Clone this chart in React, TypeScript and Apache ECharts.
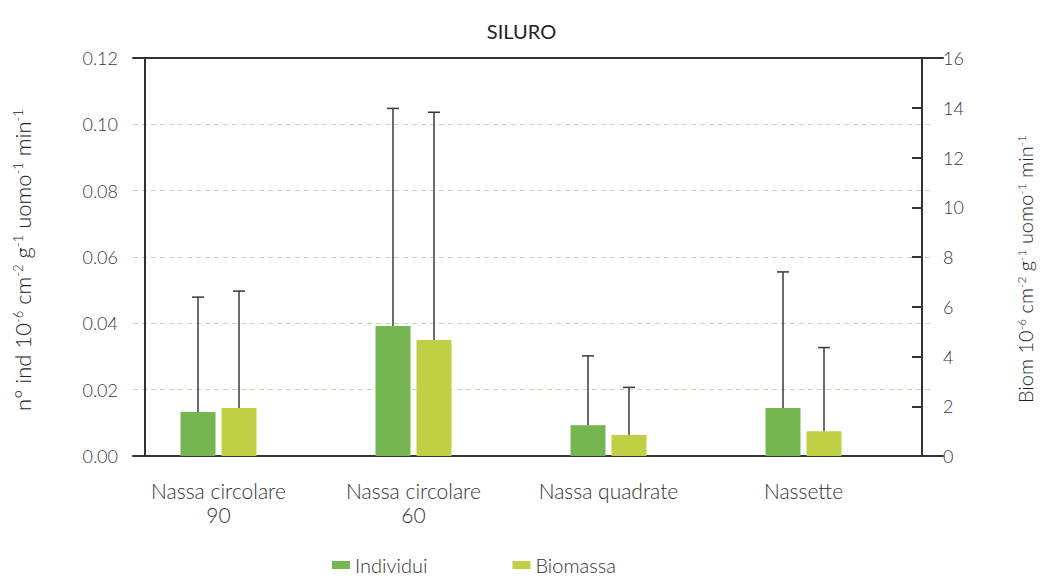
import React, { useEffect, useRef } from "react";
import * as echarts from "echarts";

const categories = ["Nassa circolare\n90", "Nassa circolare\n60", "Nassa quadrate", "Nassette"];
const individui = [0.0133, 0.0392, 0.0093, 0.0145];
const individuiErr = [0.0479, 0.1048, 0.0302, 0.0555];
const biomassa = [1.93, 4.66, 0.84, 1.0];
const biomassaErr = [6.63, 13.82, 2.76, 4.36];
const leftTicks = { min: 0, max: 0.12, interval: 0.02 };
const rightTicks = { min: 0, max: 16, interval: 2 };

const FONT = "Lato";
const BAR_W = 35;
const BAR_GAP = 6;

function errSeries(values: number[], tops: number[], yAxisIndex: number, dir: number) {
  return {
    type: "custom",
    xAxisIndex: 0,
    yAxisIndex,
    z: 5,
    silent: true,
    data: values.map((v, i) => [i, v, tops[i]]),
    renderItem: (params: any, api: any) => {
      const x = api.value(0);
      const p0 = api.coord([x, api.value(1)]);
      const p1 = api.coord([x, api.value(2)]);
      const cx = p0[0] + dir * (BAR_W + BAR_GAP) / 2;
      const style = { stroke: "#3a3a3a", lineWidth: 1.5 };
      return {
        type: "group",
        children: [
          { type: "line", shape: { x1: cx, y1: p0[1], x2: cx, y2: p1[1] }, style },
          { type: "line", shape: { x1: cx - 6, y1: p1[1], x2: cx + 6, y2: p1[1] }, style },
        ],
      };
    },
  };
}

export default function App() {
  const ref = useRef<HTMLDivElement>(null);
  useEffect(() => {
    if (!ref.current) return;
    const chart = echarts.init(ref.current, undefined, { renderer: "svg" });
    const mkName = (size: number, supSize: number, padding: number[]) => ({
      fontSize: size,
      fontFamily: FONT,
      fontWeight: 300,
      color: "#222",
      padding,
      rich: {
        s: { fontSize: supSize, verticalAlign: "top", fontFamily: FONT, color: "#222", fontWeight: 300 },
      },
    });
    chart.setOption({
      animation: false,
      textStyle: { fontFamily: FONT },
      title: {
        text: "SILURO",
        left: "center",
        top: 16,
        textStyle: { fontSize: 20, fontWeight: "normal", color: "#222", fontFamily: FONT },
      },
      legend: {
        data: ["Individui", "Biomassa"],
        left: 332,
        top: 554,
        padding: 0,
        itemWidth: 18,
        itemHeight: 8,
        itemGap: 85,
        icon: "rect",
        textStyle: { fontSize: 20, lineHeight: 22, color: "#333", fontFamily: FONT, fontWeight: 300 },
      },
      grid: [
        { left: 121, right: 132, top: 58, bottom: 123 },
        { left: 133, right: 100, top: 58, bottom: 123 },
        { left: 133, right: 111, top: 58, bottom: 123 },
      ],
      xAxis: [
        {
          type: "category",
          gridIndex: 0,
          data: categories,
          axisLine: { show: false },
          axisTick: { show: false },
          axisLabel: {
            fontSize: 21,
            fontWeight: 300,
            color: "#333",
            margin: 22,
            lineHeight: 24,
            fontFamily: FONT,
          },
        },
        {
          type: "value",
          gridIndex: 1,
          position: "bottom",
          axisLine: { show: true, lineStyle: { color: "#333", width: 2 } },
          axisTick: { show: false },
          axisLabel: { show: false },
          splitLine: { show: false },
        },
        {
          type: "value",
          gridIndex: 1,
          position: "top",
          axisLine: { show: true, lineStyle: { color: "#333", width: 2 } },
          axisTick: { show: false },
          axisLabel: { show: false },
          splitLine: { show: false },
        },
        {
          type: "value",
          gridIndex: 2,
          show: false,
        },
      ],
      yAxis: [
        {
          type: "value",
          gridIndex: 0,
          position: "left",
          offset: -24,
          ...leftTicks,
          name: "n° ind 10{s|-6} cm{s|-2} g{s|-1} uomo{s|-1} min{s|-1}",
          nameLocation: "middle",
          nameRotate: 90,
          nameGap: 112,
          nameTextStyle: mkName(22, 13, [0, 6, 0, 0]),
          axisLine: { show: true, lineStyle: { color: "#333", width: 2 } },
          axisTick: { show: false },
          axisLabel: {
            fontSize: 18,
            fontWeight: 300,
            color: "#3a3a3a",
            margin: 27,
            fontFamily: FONT,
            formatter: (v: number) => v.toFixed(2),
          },
          splitLine: { show: false },
        },
        {
          type: "value",
          gridIndex: 0,
          position: "right",
          offset: 21,
          ...rightTicks,
          name: "Biom 10{s|-6} cm{s|-2} g{s|-1} uomo{s|-1} min{s|-1}",
          nameLocation: "middle",
          nameRotate: 90,
          nameGap: 93,
          nameTextStyle: mkName(20, 12, [0, 24, 0, 0]),
          axisLine: { show: true, lineStyle: { color: "#333", width: 2 } },
          axisTick: { show: true, inside: true, length: 10, lineStyle: { color: "#333", width: 2 } },
          axisLabel: { fontSize: 18, fontWeight: 300, color: "#3a3a3a", margin: 21, fontFamily: FONT },
          splitLine: { show: false },
        },
        {
          type: "value",
          gridIndex: 1,
          show: false,
        },
        {
          type: "value",
          gridIndex: 2,
          ...leftTicks,
          axisLine: { show: false },
          axisTick: { show: false },
          axisLabel: { show: false },
          splitLine: {
            show: true,
            showMinLine: false,
            showMaxLine: false,
            lineStyle: { color: "#bfdfa8", type: [5, 4], width: 1 },
          },
        },
      ],
      series: [
        {
          name: "Individui",
          type: "bar",
          xAxisIndex: 0,
          yAxisIndex: 0,
          data: individui,
          barWidth: BAR_W,
          barGap: ((BAR_GAP / BAR_W) * 100).toFixed(1) + "%",
          itemStyle: { color: "#76b650" },
          z: 3,
        },
        {
          name: "Biomassa",
          type: "bar",
          xAxisIndex: 0,
          yAxisIndex: 1,
          data: biomassa,
          barWidth: BAR_W,
          barGap: ((BAR_GAP / BAR_W) * 100).toFixed(1) + "%",
          itemStyle: { color: "#bfd045" },
          z: 3,
        },
        errSeries(individui, individuiErr, 0, -1),
        errSeries(biomassa, biomassaErr, 1, 1),
      ],
    });
    return () => chart.dispose();
  }, []);
  return (
    <div
      ref={ref}
      style={{ position: "absolute", left: 0, top: 0, width: 1043, height: 579 }}
    />
  );
}
